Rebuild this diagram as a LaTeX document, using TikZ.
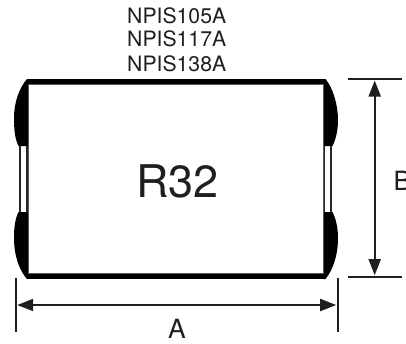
\documentclass[tikz,border=0pt]{standalone}
\usepackage{fontspec}
\setmainfont{TeX Gyre Heros}
\usetikzlibrary{arrows.meta}
\definecolor{ink}{gray}{0.12}
\tikzset{
  x=1pt,y=-1pt,
  dimline/.style={draw=ink,line width=2pt},
  dimarrow/.style={dimline,{Triangle[length=16pt,width=12pt]}-{Triangle[length=16pt,width=12pt]},shorten <=1.5pt,shorten >=1.5pt},
  txtlabel/.style={inner sep=0pt,text=ink,font=\fontsize{21.2}{21.2}\selectfont},
  dimlabel/.style={inner sep=0pt,text=ink,font=\fontsize{26.5}{26.5}\selectfont},
  endcap/.style={fill=black,draw=none},
  stripbox/.style={draw=black!85,line width=2.2pt,fill=white},
}
\begin{document}
\begin{tikzpicture}
\useasboundingbox (0,0) rectangle (406,343);
% terminal strips
\draw[stripbox] (19.7,140) rectangle (27,218);
\draw[stripbox] (331,140) rectangle (324,218);
% end caps
\fill[endcap] (27,79) .. controls (19,88) and (14,103) .. (14,118) .. controls (14,130) and (15,139) .. (18.5,146) -- (28,146) -- (28,79) -- cycle;
\fill[endcap] (18.5,212) -- (28,212) -- (28,279) -- (27,279) .. controls (19,270) and (14,255) .. (14,238) .. controls (14,228) and (15,219) .. (18.5,212) -- cycle;
\fill[endcap] (325.5,79) .. controls (333,88) and (338,105) .. (338,120) .. controls (338,130) and (336,139) .. (332.5,146) -- (323,146) -- (323,79) -- cycle;
\fill[endcap] (332.5,212) -- (323,212) -- (323,279) -- (325.5,279) .. controls (333,270) and (338,255) .. (338,238) .. controls (338,228) and (336,219) .. (332.5,212) -- cycle;
% body
\draw[draw=black!65,line width=1pt] (28,84) rectangle (323,273);
\fill[black] (27,79) rectangle (325.5,84);
\fill[black] (27,273.5) rectangle (325.5,279);
% labels
\node[txtlabel] (n1) at (176.7,15.8) {NPIS105A};
\node[txtlabel] (n2) at (176.7,39.2) {NPIS117A};
\node[txtlabel] (n3) at (176.7,63.5) {NPIS138A};
\node[inner sep=0pt,text=ink,font=\fontsize{45}{45}\selectfont] (r) at (177.5,181) {R32};
% dimensions
\coordinate (al) at (15.7,278);
\coordinate (ar) at (337.7,278);
\coordinate (ab) at (15.7,332);
\coordinate (arb) at (337.7,332);
\draw[dimline] (al) -- (ab);
\draw[dimline] (ar) -- (arb);
\coordinate (am1) at (15.7,305);
\coordinate (am2) at (337.7,305);
\draw[dimarrow] (am1) -- (am2);
\coordinate (bl) at (348,79);
\coordinate (br) at (402,79);
\coordinate (cl) at (348,276.7);
\coordinate (cr) at (402,276.7);
\draw[dimline] (bl) -- (br);
\draw[dimline] (cl) -- (cr);
\coordinate (bm1) at (374.7,79);
\coordinate (bm2) at (374.7,276.7);
\draw[dimarrow] (bm1) -- (bm2);
\node[dimlabel] (a) at (177,329) {A};
\node[dimlabel,anchor=west] (b) at (393.3,180.7) {B};
\end{tikzpicture}
\end{document}
